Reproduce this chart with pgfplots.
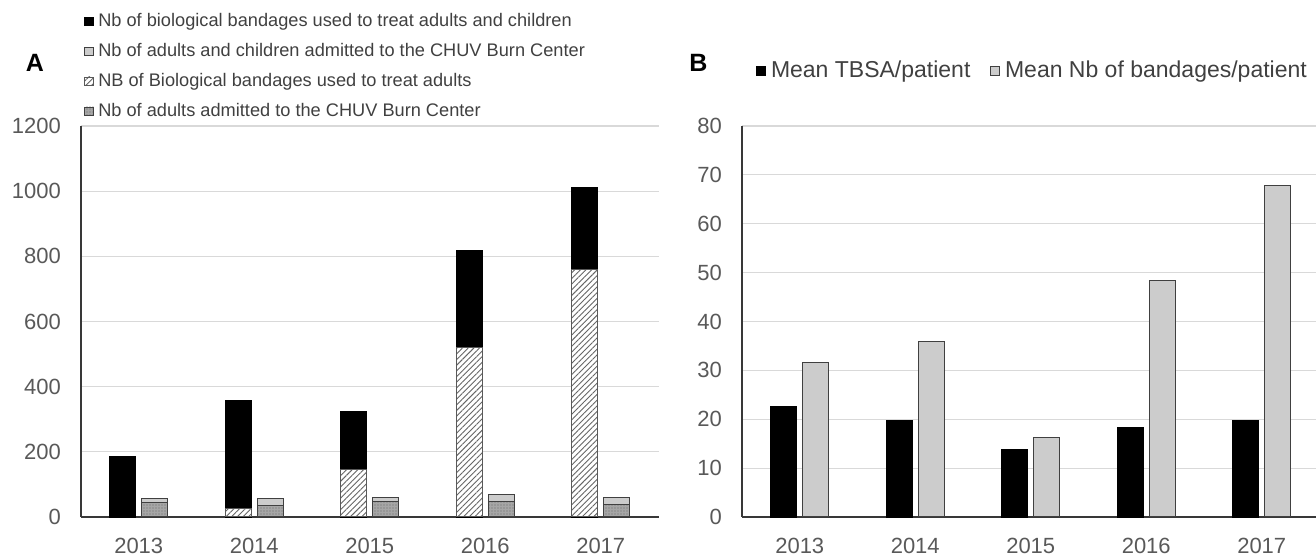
\documentclass[border=0pt]{standalone}
\usepackage{pgfplots}
\pgfplotsset{compat=1.18}
\usepackage{fontspec}
\setmainfont{Liberation Sans}
\usetikzlibrary{patterns,patterns.meta}
\definecolor{tickgray}{HTML}{595959}
\definecolor{txtgray}{HTML}{404040}
\definecolor{gridgray}{HTML}{D9D9D9}
\definecolor{lightbar}{HTML}{CCCCCC}
\definecolor{dotbar}{HTML}{A6A6A6}
\definecolor{outl}{HTML}{404040}

\pgfplotsset{
  common/.style={
    scale only axis,
    height=195.5pt,
    ymin=0,
    xmin=-0.5,
    axis x line*=bottom, axis y line*=left,
    axis line style={line width=0.85pt, black!78, -},
    major tick length=0pt,
    ymajorgrids, grid style={gridgray, line width=0.6pt},
    xtick={0,1,2,3,4}, xticklabels={2013,2014,2015,2016,2017},
    tick label style={font=\fontsize{11}{13}\selectfont, text=tickgray},
    /pgf/number format/assume math mode=true,
    /pgf/number format/1000 sep={},
    yticklabel style={xshift=-6.5pt},
    xticklabel style={yshift=-7pt},
    clip=false,
    legend cell align=left,
    legend image code/.code={\draw[##1, line width=0.4pt] (0pt,-2.2pt) rectangle (4.4pt,2.2pt);},
  },
  hatch/.style={fill=white, draw=black!65, line width=0.5pt,
    postaction={pattern={Lines[angle=45,distance=2pt,line width=0.45pt]},pattern color=black!60}},
  dotted/.style={fill=dotbar, draw=outl, line width=0.5pt,
    postaction={pattern={Dots[distance=1.5pt,radius=0.35pt]},pattern color=black!60}},
}

\begin{document}
\begin{tikzpicture}
\useasboundingbox (0,0) rectangle (658pt,278pt);

% ---------------- Panel A ----------------
\begin{axis}[common,
  at={(40.5pt,19.5pt)}, anchor=south west,
  width=288.75pt,
  xmax=4.5,
  ymax=1200, ytick={0,200,...,1200},
  legend style={draw=none, fill=none,
    at={(axis description cs:0.005,1.307)}, anchor=north west,
    font=\fontsize{9.1}{11}\selectfont, text=txtgray,
    inner sep=0pt, row sep=0pt, column sep=2.2pt,
    nodes={inner sep=0pt, minimum height=15pt}},
]
% total biological bandages (adults + children)
\addplot[ybar, bar width=13pt, bar shift=-8pt, fill=black, draw=black, forget plot]
  coordinates {(0,187) (1,359) (2,323) (3,819) (4,1012)};
% biological bandages used for adults
\addplot[ybar, bar width=13pt, bar shift=-8pt, hatch, forget plot]
  coordinates {(1,27) (2,146) (3,520) (4,760)};
% adults and children admitted
\addplot[ybar, bar width=13pt, bar shift=8pt, fill=lightbar, draw=outl, line width=0.5pt, forget plot]
  coordinates {(0,58) (1,58) (2,61) (3,69) (4,61)};
% adults admitted
\addplot[ybar, bar width=13pt, bar shift=8pt, dotted, forget plot]
  coordinates {(0,43) (1,36) (2,48) (3,48) (4,39)};

\addlegendimage{fill=black, draw=black}
\addlegendentry{Nb of biological bandages used to treat adults and children}
\addlegendimage{fill=lightbar, draw=outl}
\addlegendentry{Nb of adults and children admitted to the CHUV Burn Center}
\addlegendimage{hatch}
\addlegendentry{NB of Biological bandages used to treat adults}
\addlegendimage{dotted}
\addlegendentry{Nb of adults admitted to the CHUV Burn Center}

\node[font=\bfseries\fontsize{12.5}{14}\selectfont, anchor=center]
  at (axis description cs:-0.080,1.161) {A};
\end{axis}

% ---------------- Panel B ----------------
\begin{axis}[common,
  at={(371pt,19.5pt)}, anchor=south west,
  width=287pt,
  xmax=4.47,
  ymax=80, ytick={0,10,...,80},
  legend columns=2,
  legend style={draw=none, fill=none,
    at={(axis description cs:0.0244,1.1407)}, anchor=west,
    font=\fontsize{11.5}{13}\selectfont, text=txtgray,
    inner sep=0pt, column sep=2.5pt,
    nodes={inner sep=0pt},
    /tikz/every even column/.append style={column sep=10pt}},
]
\addplot[ybar, bar width=13pt, bar shift=-8pt, fill=black, draw=black]
  coordinates {(0,22.6) (1,19.7) (2,13.9) (3,18.4) (4,19.8)};
\addlegendentry{Mean TBSA/patient}
\addplot[ybar, bar width=13pt, bar shift=8pt, fill=lightbar, draw=outl, line width=0.5pt]
  coordinates {(0,31.6) (1,35.9) (2,16.3) (3,48.3) (4,67.9)};
\addlegendentry{Mean Nb of bandages/patient}

\node[font=\bfseries\fontsize{12.5}{14}\selectfont, anchor=center]
  at (axis description cs:-0.076,1.161) {B};
\end{axis}
\end{tikzpicture}
\end{document}
